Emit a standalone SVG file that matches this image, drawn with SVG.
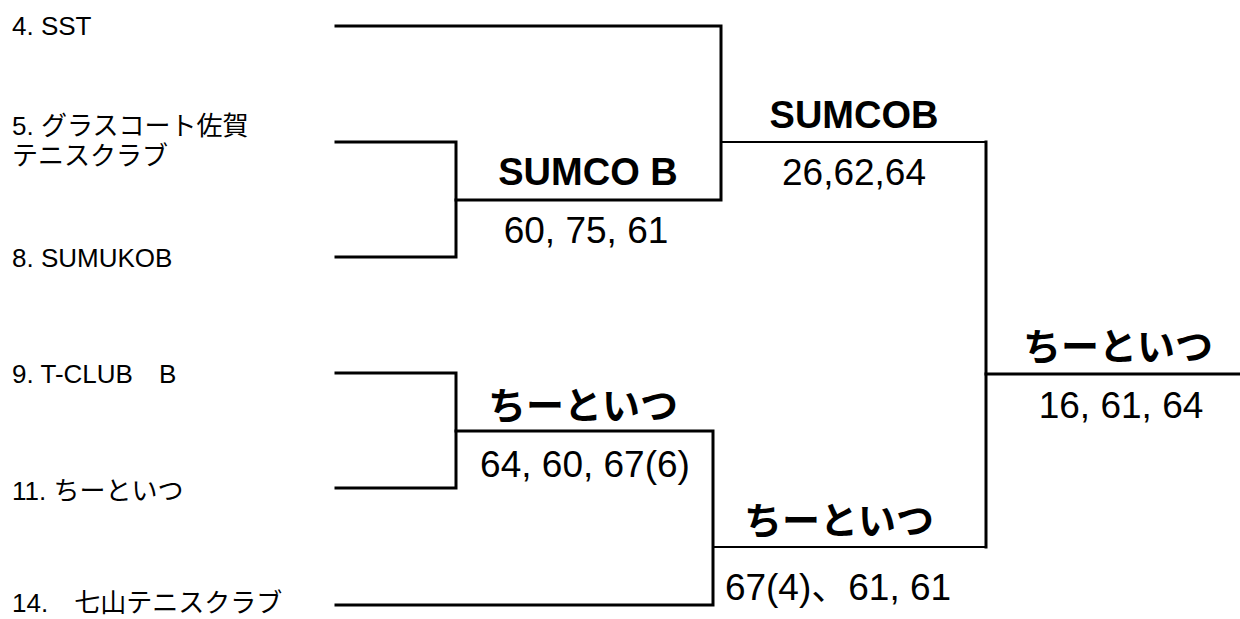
<svg xmlns="http://www.w3.org/2000/svg" width="1240" height="619" viewBox="0 0 1240 619">
<style>
.ln{fill:none;stroke:#000;stroke-width:3;stroke-linecap:square}
.thin{stroke-width:2}
.team{font-family:"Liberation Sans","Noto Sans CJK JP",sans-serif;font-size:26px;fill:#000}
.win{font-family:"Liberation Sans","Noto Sans CJK JP",sans-serif;font-size:38px;font-weight:bold;fill:#000;text-anchor:middle}
.score{font-family:"Liberation Sans","Noto Sans CJK JP",sans-serif;font-size:37px;fill:#000;text-anchor:middle}
</style>
<rect width="1240" height="619" fill="#fff"/>
<g id="connectors">
<path class="ln" d="M336 26H721V200H456"/>
<path class="ln" d="M336 142H456V257H336"/>
<path class="ln thin" d="M721 142H986"/>
<path class="ln" d="M336 373H456V488H336"/>
<path class="ln" d="M456 431H713V605H336"/>
<path class="ln thin" d="M713 547H986"/>
<path class="ln" d="M986 142V547"/>
<path class="ln" d="M986 374H1240"/>
</g>
<g id="team-4"><text class="team" x="12" y="35">4. SST</text></g>
<g id="team-5"><text class="team" x="12" y="135">5. グラスコート佐賀</text><text class="team" x="12" y="165">テニスクラブ</text></g>
<g id="team-8"><text class="team" x="12" y="267">8. SUMUKOB</text></g>
<g id="team-9"><text class="team" x="12" y="383">9. T-CLUB　B</text></g>
<g id="team-11"><text class="team" x="12" y="500">11. ちーといつ</text></g>
<g id="team-14"><text class="team" x="12" y="612">14.　七山テニスクラブ</text></g>
<g id="qf-top"><text class="win" x="588" y="185">SUMCO B</text><text class="score" x="586" y="243">60, 75, 61</text></g>
<g id="sf-top"><text class="win" x="854" y="128">SUMCOB</text><text class="score" x="854" y="185">26,62,64</text></g>
<g id="qf-bottom"><text class="win" x="583" y="419">ちーといつ</text><text class="score" x="585" y="477">64, 60, 67(6)</text></g>
<g id="sf-bottom"><text class="win" x="839" y="534">ちーといつ</text><text class="score" x="838" y="600">67(4)、61, 61</text></g>
<g id="final"><text class="win" x="1118" y="360">ちーといつ</text><text class="score" x="1121" y="418">16, 61, 64</text></g>
</svg>
